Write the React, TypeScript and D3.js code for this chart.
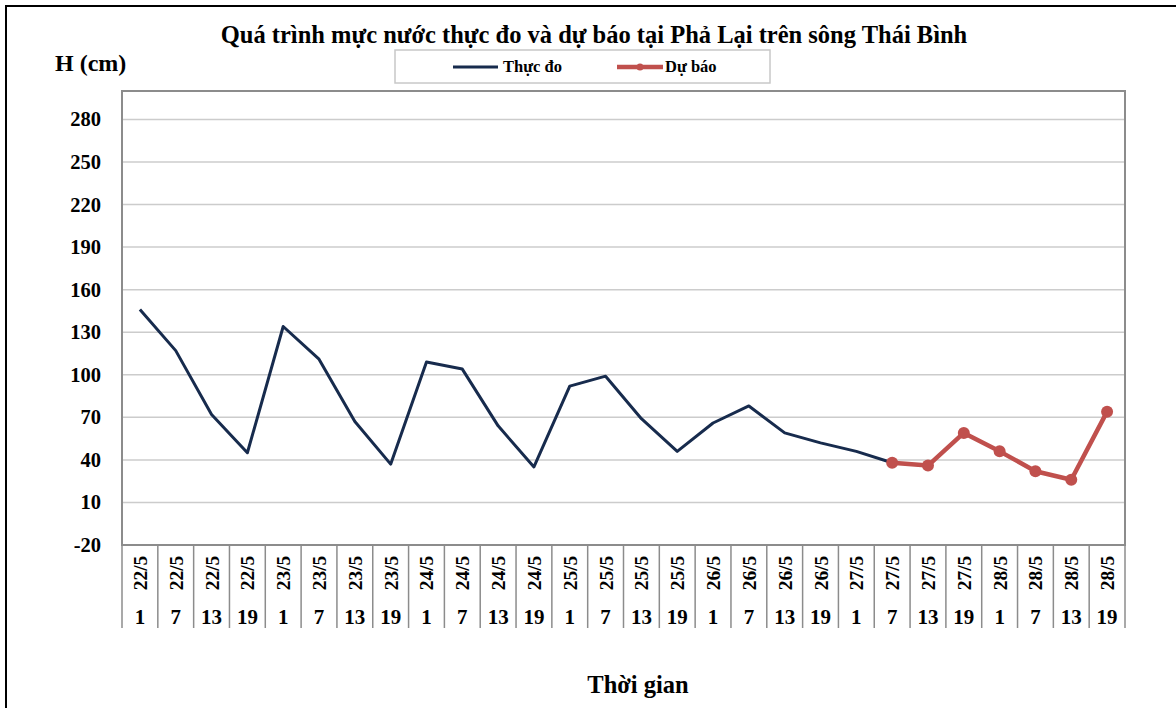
import React from "react";
import * as d3 from "d3";

const dates = ["22/5","22/5","22/5","22/5","23/5","23/5","23/5","23/5","24/5","24/5","24/5","24/5","25/5","25/5","25/5","25/5","26/5","26/5","26/5","26/5","27/5","27/5","27/5","27/5","28/5","28/5","28/5","28/5"];
const hours = ["1","7","13","19","1","7","13","19","1","7","13","19","1","7","13","19","1","7","13","19","1","7","13","19","1","7","13","19"];
const observed: (number | null)[] = [146,117,72,45,134,111,67,37,109,104,64,35,92,99,69,46,66,78,59,52,46,38,null,null,null,null,null,null];
const forecast: (number | null)[] = [null,null,null,null,null,null,null,null,null,null,null,null,null,null,null,null,null,null,null,null,null,38,36,59,46,32,26,74];
const yTicks = [-20,10,40,70,100,130,160,190,220,250,280];

const W = 1176, H = 708;
const L = 122, R = 1125, T = 91, B = 545;
const FONT = "'Liberation Serif', 'Times New Roman', serif";

export default function App() {
  const idx = d3.range(dates.length);
  const xBand = d3.scaleBand<number>().domain(idx).range([L, R]).paddingInner(0).paddingOuter(0);
  const xc = (i: number) => (xBand(i) as number) + xBand.bandwidth() / 2;
  const y = d3.scaleLinear().domain([-20, 300]).range([B, T]);

  const lineGen = d3.line<number | null>()
    .defined(d => d != null)
    .x((_, i) => xc(i))
    .y(d => y(d as number));

  const obsPath = lineGen(observed) || "";
  const fcPath = lineGen(forecast) || "";

  return (
    <svg width={W} height={H} style={{ position: "absolute", left: 0, top: 0, background: "#fff" }} fontFamily={FONT}>
      <rect x={0} y={0} width={W} height={H} fill="#fff" />
      {/* outer border */}
      <line x1={5} y1={6} x2={W} y2={6} stroke="#000" strokeWidth={2} />
      <line x1={6} y1={5} x2={6} y2={H} stroke="#000" strokeWidth={2} />

      {/* title */}
      <text x={594} y={43} textAnchor="middle" fontSize={24.5} fontWeight="bold">Quá trình mực nước thực đo và dự báo tại Phả Lại trên sông Thái Bình</text>
      <text x={55} y={71} fontSize={24} fontWeight="bold">H (cm)</text>

      {/* legend */}
      <rect x={395} y={50} width={375} height={33} fill="#fff" stroke="#c8c8c8" strokeWidth={1.5} />
      <line x1={453} y1={67} x2={498} y2={67} stroke="#172b4d" strokeWidth={3} />
      <text x={503} y={72} fontSize={16.5} fontWeight="bold">Thực đo</text>
      <line x1={617} y1={67} x2={663} y2={67} stroke="#c0504d" strokeWidth={4.5} />
      <circle cx={640} cy={67} r={3.5} fill="#c0504d" />
      <text x={665} y={72} fontSize={16.5} fontWeight="bold">Dự báo</text>

      {/* gridlines */}
      {yTicks.map(t => (
        <line key={t} x1={L} x2={R} y1={y(t)} y2={y(t)} stroke="#cccccc" strokeWidth={1.5} />
      ))}
      {/* plot border */}
      <rect x={L} y={T} width={R - L} height={B - T} fill="none" stroke="#8c8c8c" strokeWidth={2} />

      {/* y tick labels */}
      {yTicks.map(t => (
        <text key={t} x={101} y={y(t) + 7} textAnchor="end" fontSize={20.5} fontWeight="bold">{t}</text>
      ))}

      {/* x axis separators */}
      {d3.range(dates.length + 1).map(i => {
        const x = i < dates.length ? (xBand(i) as number) : R;
        return <line key={i} x1={x} x2={x} y1={B} y2={628} stroke="#8c8c8c" strokeWidth={1.5} />;
      })}
      {idx.map(i => (
        <g key={i}>
          <text transform={`translate(${xc(i) + 7},${573}) rotate(-90)`} textAnchor="middle" fontSize={19.5} fontWeight="bold">{dates[i]}</text>
          <text x={xc(i)} y={624} textAnchor="middle" fontSize={21} fontWeight="bold">{hours[i]}</text>
        </g>
      ))}

      <text x={638} y={693} textAnchor="middle" fontSize={24.5} fontWeight="bold">Thời gian</text>

      {/* series */}
      <path d={obsPath} fill="none" stroke="#172b4d" strokeWidth={3} strokeLinejoin="round" />
      <path d={fcPath} fill="none" stroke="#c0504d" strokeWidth={4.5} strokeLinejoin="round" />
      {forecast.map((v, i) => v == null ? null : (
        <circle key={i} cx={xc(i)} cy={y(v)} r={6} fill="#c0504d" />
      ))}
    </svg>
  );
}
